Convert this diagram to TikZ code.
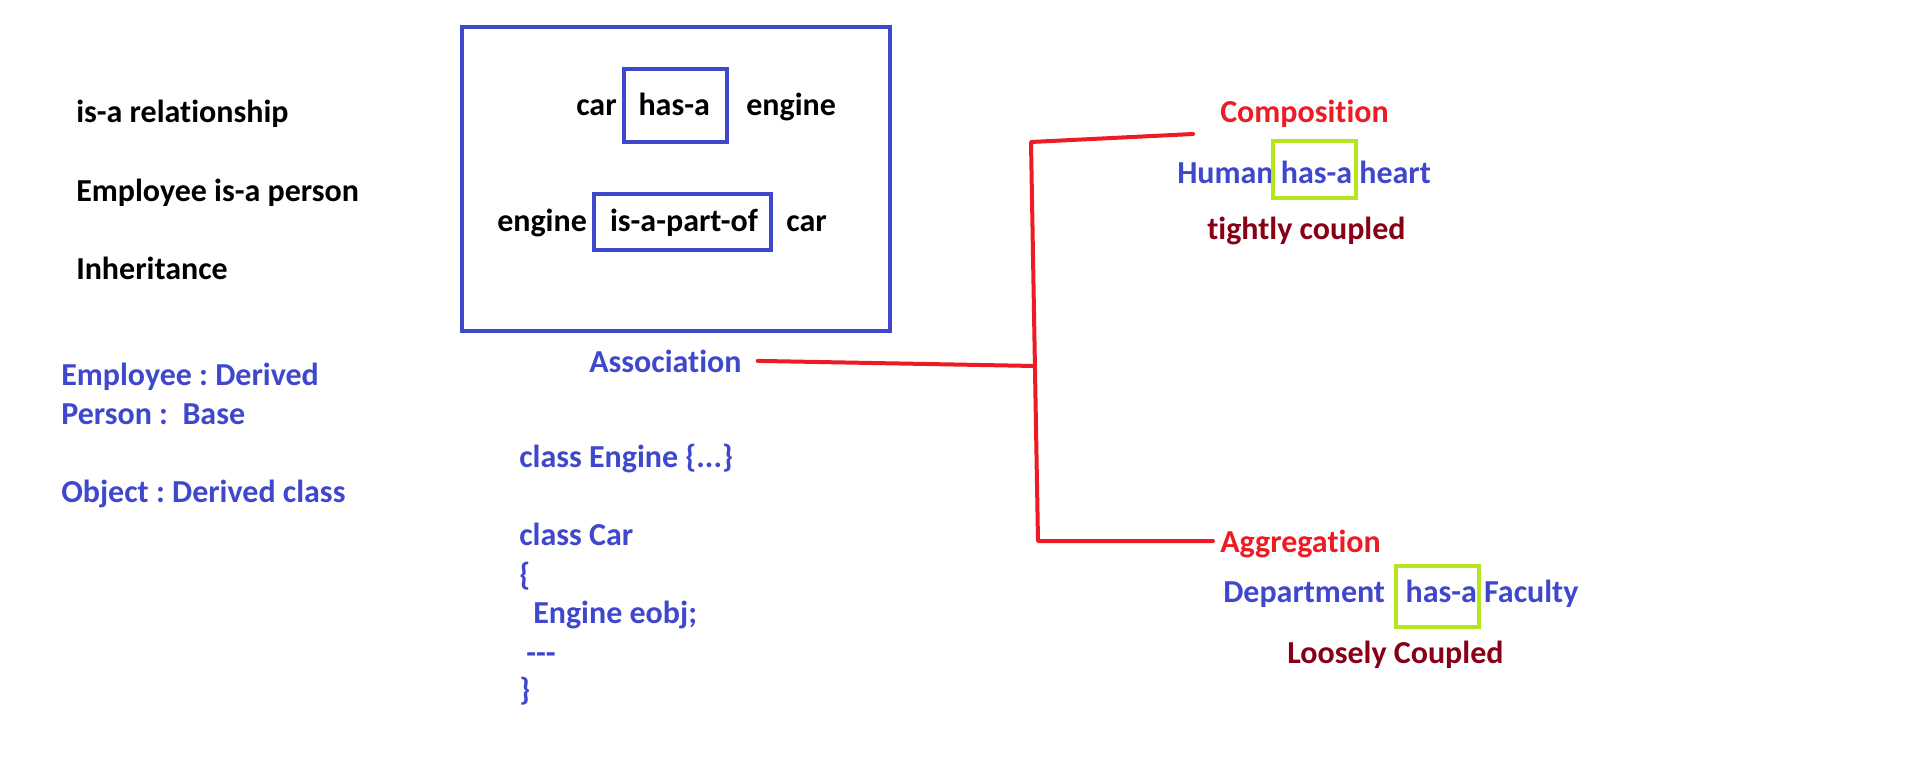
\documentclass[tikz,border=0pt]{standalone}
\usepackage{fontspec}
\setmainfont{Carlito}[Ligatures={TeX,NoCommon}]
\frenchspacing
\usepackage{tikz}
\usetikzlibrary{positioning,fit}

\definecolor{paintblue}{RGB}{63,72,204}
\definecolor{paintred}{RGB}{237,28,36}
\definecolor{darkred}{RGB}{136,0,21}
\definecolor{limegreen}{RGB}{181,230,29}

\tikzset{
  word/.style={inner sep=0pt, anchor=base west, font=\fontsize{24pt}{29.3pt}\selectfont\bfseries},
  blueword/.style={word, text=paintblue},
  redword/.style={word, text=paintred},
  darkword/.style={word, text=darkred},
  bluebox/.style={draw=paintblue, line width=3pt, inner sep=0pt},
  limebox/.style={draw=limegreen, line width=3pt, inner sep=0pt},
  redline/.style={draw=paintred, line width=3pt, line cap=round, line join=round},
}

\begin{document}
\begin{tikzpicture}[x=0.75pt, y=-0.75pt]
        \path[fill=white] (0,0) rectangle (1914,763);
        \useasboundingbox (0,0) rectangle (1914,763);

        % NODES
        % -----------------

        % is-a side
        \node[word] (isa_rel) at (76,123) {is-a relationship};
        \node[word] (emp_isa) at (76,202) {Employee is-a person};
        \node[word] (inherit) at (76,279) {Inheritance};

        \node[blueword] (emp_derived) at (61,385) {Employee : Derived};
        \node[blueword] (person_base) at (61,424) {Person : \ Base};
        \node[blueword] (obj_derived) at (61,502) {Object : Derived class};

        % has-a box
        \node[word] (car_a) at (576,116) {car};
        \node[word, base right=16pt of car_a] (has_a) {has-a};
        \node[word, base right=27pt of has_a] (engine_a) {engine};

        \node[word] (engine_b) at (497,232) {engine};
        \node[word, base right=17pt of engine_b] (part_of) {is-a-part-of};
        \node[word, base right=21pt of part_of] (car_b) {car};

        \node[bluebox, fit={(462,27) (890,331)}] (outer_box) {};
        \node[bluebox, fit={(624,69) (727,142)}] (has_a_box) {};
        \node[bluebox, fit={(594,194) (771,250)}] (part_of_box) {};

        % association and code
        \node[blueword] (assoc) at (589,372) {Association};

        \node[blueword] (cls_engine) at (519,467) {class Engine \{...\}};
        \node[blueword] (cls_car) at (519,545) {class Car};
        \node[blueword] (brace_open) at (519,585) {\{};
        \node[blueword] (member) at (533,623) {Engine eobj;};
        \node[blueword] (dashes) at (526,663) {{-}{-}{-}};
        \node[blueword] (brace_close) at (519,700) {\}};

        % composition
        \node[redword] (compos) at (1220,123) {Composition};
        \node[blueword] (human) at (1177,184) {Human};
        \node[blueword, base right=5pt of human] (has_heart) {has-a};
        \node[blueword, base right=5pt of has_heart] (heart) {heart};
        \node[darkword] (tight) at (1207,239) {tightly coupled};
        \node[limebox, fit={(1273,141) (1356,198)}] (heart_box) {};

        % aggregation
        \node[redword] (aggr) at (1220,552) {Aggregation};
        \node[blueword] (dept) at (1223,602) {Department};
        \node[blueword, base right=15pt of dept] (has_fac) {has-a};
        \node[blueword, base right=5pt of has_fac] (faculty) {Faculty};
        \node[darkword] (loose) at (1287,663) {Loosely Coupled};
        \node[limebox, fit={(1396,566) (1479,627)}] (faculty_box) {};

        % JOINTS
        % -----------------
        \coordinate (comp_tail) at (1193,134);
        \coordinate (split_top) at (1031,142);
        \coordinate (split_mid) at (1035,366);
        \coordinate (split_bot) at (1038,541);
        \coordinate (aggr_tail) at (1213,541);

        % EDGES
        % -----------------
        \draw[redline] (comp_tail) -- (split_top) -- (split_bot) -- (aggr_tail);
        \draw[redline] ([xshift=12pt]assoc.east) -- (split_mid);

    \end{tikzpicture}
\end{document}
